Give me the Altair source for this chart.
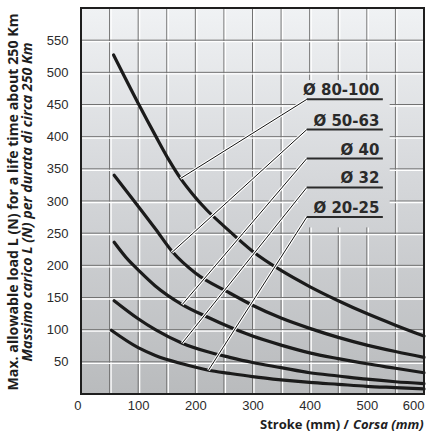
import altair as alt
import pandas as pd

# ---- data ----
stroke_80_100 = [57, 100, 130, 155, 175, 195, 220, 250, 300, 350, 400, 450, 500, 550, 600]
load_80_100 = [527, 452, 402, 362, 334, 311, 286, 261, 222, 192, 167, 145, 125, 107, 90]

stroke_50_63 = [58, 100, 130, 160, 200, 260, 300, 350, 400, 450, 500, 550, 600]
load_50_63 = [340, 292, 257, 221, 188, 157, 138, 118, 102, 88, 76, 66, 57]

stroke_40 = [58, 83, 100, 130, 177, 220, 260, 300, 350, 400, 450, 500, 550, 600]
load_40 = [236, 208, 193, 168, 139, 120, 104, 90, 76, 64, 55, 47, 40, 33]

stroke_32 = [58, 100, 130, 177, 220, 260, 300, 350, 400, 450, 500, 550, 600]
load_32 = [145, 117, 100, 79, 66, 57, 49, 41, 33, 28, 23, 19, 16]

stroke_20_25 = [53, 100, 130, 177, 223, 260, 300, 350, 400, 450, 500, 550, 600]
load_20_25 = [99, 72, 60, 47, 37, 32, 27, 22, 18, 15, 12, 10, 8]

labels = ["Ø 80-100", "Ø 50-63", "Ø 40", "Ø 32", "Ø 20-25"]
label_level = [458, 411, 366, 321, 275]          # load level of each label's underline
leader_x = [174, 159, 177, 177, 223]              # where each leader touches its curve
leader_y = [335, 220, 139, 79, 37]

x_ticks = [0, 100, 200, 300, 400, 500, 600]
y_ticks = [50, 100, 150, 200, 250, 300, 350, 400, 450, 500, 550]
grid_steps = [50, 100, 150, 200, 250, 300, 350, 400, 450, 500, 550]

# ---- build tables ----
series = [
    ("80-100", stroke_80_100, load_80_100),
    ("50-63", stroke_50_63, load_50_63),
    ("40", stroke_40, load_40),
    ("32", stroke_32, load_32),
    ("20-25", stroke_20_25, load_20_25),
]
rows = []
for name, xs_, ys_ in series:
    for i, (a, b) in enumerate(zip(xs_, ys_)):
        rows.append({"s": name, "x": a, "y": b, "o": i})
curves = pd.DataFrame(rows)

# gridline segments, with the label box left clear
box = (380, 540, 259, 488)
vg, hg = [], []
for g in grid_steps:
    if box[0] <= g <= box[1]:
        vg += [{"x": g, "y0": 0, "y1": box[2]}, {"x": g, "y0": box[3], "y1": 600}]
    else:
        vg.append({"x": g, "y0": 0, "y1": 600})
    if box[2] <= g <= box[3]:
        hg += [{"y": g, "x0": 0, "x1": box[0]}, {"y": g, "x0": box[1], "x1": 600}]
    else:
        hg.append({"y": g, "x0": 0, "x1": 600})
vgrid = pd.DataFrame(vg)
hgrid = pd.DataFrame(hg)

ann = pd.DataFrame({
    "label": labels,
    "ly": label_level,
    "lx0": [395] * 5,
    "lx1": [528] * 5,
    "tx": [522] * 5,
    "px": leader_x,
    "py": leader_y,
})

W, H = 343, 386
xs = alt.Scale(domain=[0, 600], nice=False, zero=False)
ys = alt.Scale(domain=[0, 600], nice=False)
xa = alt.Axis(values=x_ticks, grid=False, domain=False, ticks=False, labelPadding=5,
              labelFlush=False,
              labelAlign={"condition": {"test": "datum.value == 0 || datum.value == 600",
                                        "value": "right"},
                          "value": "center"},
              labelFontSize=13, labelFont="Liberation Sans", labelColor="#2b2b2b", title=None)
ya = alt.Axis(values=y_ticks, grid=False, domain=False, ticks=False, labelPadding=13,
              labelFontSize=13, labelFont="Liberation Sans", labelColor="#2b2b2b", title=None)


def X(f):
    return alt.X(f, scale=xs, axis=xa)


def Y(f):
    return alt.Y(f, scale=ys, axis=ya)


frame = pd.DataFrame({"x0": [0], "x1": [600], "y0": [0], "y1": [600]})

bg = alt.Chart(frame).mark_rect(
    fill=alt.LinearGradient(
        gradient="linear",
        stops=[alt.GradientStop(color="#b9bbbd", offset=0),
               alt.GradientStop(color="#d5d7da", offset=0.55),
               alt.GradientStop(color="#f0f2f4", offset=1)],
        x1=0, x2=0, y1=1, y2=0),
).encode(x=X("x0:Q"), x2="x1:Q", y=Y("y0:Q"), y2="y1:Q")

vgray = alt.Chart(vgrid).mark_rule(color="#727272", strokeWidth=1).encode(
    x=X("x:Q"), y=Y("y0:Q"), y2="y1:Q")
vwhite = alt.Chart(vgrid).mark_rule(color="#ffffff", strokeWidth=1.3, xOffset=1.5).encode(
    x=X("x:Q"), y=Y("y0:Q"), y2="y1:Q")
hgray = alt.Chart(hgrid).mark_rule(color="#727272", strokeWidth=1).encode(
    y=Y("y:Q"), x=X("x0:Q"), x2="x1:Q")
hwhite = alt.Chart(hgrid).mark_rule(color="#ffffff", strokeWidth=1.3, yOffset=1.5).encode(
    y=Y("y:Q"), x=X("x0:Q"), x2="x1:Q")

lines = alt.Chart(curves).mark_line(
    color="#1b1b1b", strokeWidth=3.2, interpolate="monotone", strokeCap="round"
).encode(x=X("x:Q"), y=Y("y:Q"), detail="s:N", order="o:Q")

leader_halo = alt.Chart(ann).mark_rule(color="#ffffff", strokeWidth=3).encode(
    x=X("lx0:Q"), y=Y("ly:Q"), x2="px:Q", y2="py:Q")
leader = alt.Chart(ann).mark_rule(color="#111111", strokeWidth=1).encode(
    x=X("lx0:Q"), y=Y("ly:Q"), x2="px:Q", y2="py:Q")
underline = alt.Chart(ann).mark_rule(color="#2a2a2a", strokeWidth=2).encode(
    x=X("lx0:Q"), x2="lx1:Q", y=Y("ly:Q"))
label_txt = alt.Chart(ann).mark_text(
    align="right", baseline="alphabetic", dy=-4, fontSize=15, fontWeight="bold",
    font="DejaVu Sans", color="#2a2a2a"
).encode(x=X("tx:Q"), y=Y("ly:Q"), text="label:N")

border = alt.Chart(frame).mark_rect(filled=False, stroke="#1e1e1e", strokeWidth=2).encode(
    x=X("x0:Q"), x2="x1:Q", y=Y("y0:Q"), y2="y1:Q")

one = pd.DataFrame({"k": [0]})
ytitle1 = alt.Chart(one).mark_text(
    angle=270, align="center", baseline="middle", fontSize=14.2, fontWeight="bold",
    font="Open Sans", color="#1e1e1e",
    text="Max. allowable load L (N) for a life time about 250 Km",
).encode(x=alt.value(-67), y=alt.value(H / 2 + 1))
ytitle2 = alt.Chart(one).mark_text(
    angle=270, align="center", baseline="middle", fontSize=14.2, fontWeight="bold",
    fontStyle="italic", font="Open Sans", color="#1e1e1e",
    text="Massimo carico L (N) per durata di circa 250 Km",
).encode(x=alt.value(-53), y=alt.value(H / 2 + 1))
xtitle1 = alt.Chart(one).mark_text(
    align="right", baseline="alphabetic", fontSize=13, fontWeight="bold",
    font="Open Sans", color="#1e1e1e", text="Stroke (mm) /",
).encode(x=alt.value(268), y=alt.value(35 + H))
xtitle2 = alt.Chart(one).mark_text(
    align="left", baseline="alphabetic", fontSize=13, fontWeight="bold",
    fontStyle="italic", font="Open Sans", color="#1e1e1e", text="Corsa (mm)",
).encode(x=alt.value(272), y=alt.value(35 + H))

chart = alt.layer(
    bg, vgray, vwhite, hgray, hwhite, lines, leader_halo, leader, underline, label_txt,
    border, ytitle1, ytitle2, xtitle1, xtitle2,
).properties(
    width=W, height=H,
    autosize=alt.AutoSizeParams(type="none"),
    padding={"left": 81, "top": 8, "right": 11, "bottom": 40},
    background="#ffffff",
).configure_view(stroke=None)

chart.save("out.html", embed_options={"renderer": "svg", "actions": False})
